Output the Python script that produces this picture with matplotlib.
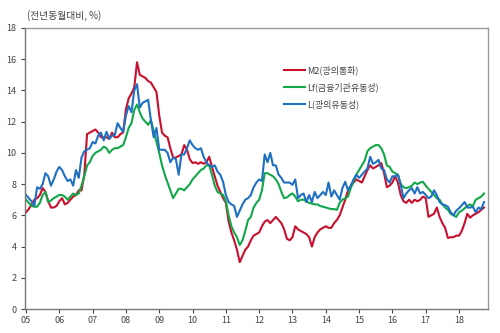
import matplotlib
matplotlib.use('Agg')
import matplotlib.pyplot as plt
import numpy as np

plt.rcParams['font.family'] = ['Noto Sans CJK KR', 'DejaVu Sans']

# monthly, Jan 2005 .. Oct 2018 (% yoy)
m2 = [6.2, 6.4, 6.7, 7.0, 7.1, 7.3, 7.75, 7.5, 6.9, 6.5, 6.5, 6.6,
      6.9, 7.1, 6.7, 6.8, 7.0, 7.2, 7.3, 7.6, 7.6, 8.6, 11.2, 11.3,
      11.4, 11.5, 11.3, 11.0, 11.0, 11.0, 10.9, 11.3, 11.0, 11.0, 11.2, 11.3,
      12.8, 13.5, 13.8, 14.2, 15.8, 15.0, 14.9, 14.8, 14.6, 14.5, 14.2, 13.9,
      12.4, 11.3, 11.1, 11.0, 10.3, 9.7, 9.7, 9.8, 9.9, 10.5, 10.2, 9.6,
      9.35, 9.4, 9.3, 9.4, 9.3, 9.4, 9.75, 9.1, 8.5, 7.9, 7.5, 7.1,
      6.8, 5.6, 4.9, 4.4, 3.8, 3.0, 3.4, 3.8, 4.0, 4.4, 4.7, 4.8,
      4.9, 5.3, 5.6, 5.7, 5.5, 5.7, 5.9, 5.7, 5.5, 5.1, 4.5, 4.4,
      4.6, 5.3, 5.1, 5.0, 4.9, 4.8, 4.6, 4.0, 4.6, 4.9, 5.1, 5.2,
      5.3, 5.2, 5.2, 5.5, 5.7, 6.0, 6.5, 7.0, 7.6, 7.9, 8.1, 8.3,
      8.2, 8.1, 8.5, 8.9, 9.2, 9.0, 9.1, 9.2, 9.35, 8.7, 7.8, 7.9,
      8.1, 8.5, 8.1, 7.3, 6.9, 6.8, 7.0, 6.8, 7.0, 6.9, 7.0, 7.2,
      7.1, 5.9, 6.0, 6.1, 6.5, 5.9, 5.5, 5.2, 4.55, 4.6, 4.6, 4.7,
      4.7, 5.0, 5.5, 6.1, 5.85, 6.0, 6.1, 6.2, 6.35, 6.5]

lf = [7.0, 6.8, 6.6, 6.55, 6.55, 6.8, 7.3, 7.5, 6.85, 6.95, 7.1, 7.2,
      7.3, 7.3, 7.2, 7.0, 7.2, 7.4, 7.3, 7.4, 7.9, 8.5, 9.2, 9.4,
      9.8, 10.0, 10.1, 10.2, 10.4, 10.3, 10.0, 10.2, 10.3, 10.3, 10.4, 10.5,
      11.0, 11.6, 11.9, 12.75, 13.1, 12.6, 12.2, 12.0, 11.8, 12.1, 11.4, 10.7,
      10.0, 9.2, 8.6, 8.1, 7.6, 7.1, 7.4, 7.7, 7.7, 7.6, 7.8, 8.0,
      8.3, 8.5, 8.7, 8.9, 9.0, 9.2, 9.2, 8.6, 7.9, 7.5, 7.4, 7.3,
      6.9, 6.0, 5.3, 4.9, 4.6, 4.1, 4.4, 5.0, 5.7, 5.9, 6.5, 6.8,
      7.0, 7.6, 8.7, 8.7, 8.6, 8.5, 8.3, 8.0, 7.5, 7.1, 7.15, 7.3,
      7.4, 7.2, 6.9, 7.0, 7.0, 6.9, 6.8, 6.75, 6.7, 6.7, 6.6, 6.55,
      6.5, 6.45, 6.4, 6.4, 6.35, 6.8, 7.0, 7.1, 7.2, 7.75, 8.15, 8.6,
      8.9, 9.2, 9.5, 10.1, 10.3, 10.4, 10.5, 10.5, 10.3, 9.9, 9.2, 9.1,
      8.8, 8.7, 8.6, 8.0, 7.8, 7.75, 7.8, 7.9, 8.1, 8.0, 8.1, 8.15,
      7.9, 7.7, 7.5, 7.3, 7.1, 7.0, 6.7, 6.5, 6.35, 6.1, 6.0, 5.9,
      6.2, 6.3, 6.45, 6.6, 6.7, 6.6, 7.0, 7.1, 7.2, 7.4]

l = [7.3, 7.1, 6.9, 6.6, 7.8, 7.7, 8.0, 8.7, 8.5, 7.9, 8.3, 8.8,
     9.1, 8.9, 8.5, 8.2, 8.3, 7.9, 8.9, 8.4, 9.7, 10.1, 10.2, 10.3,
     10.7, 10.6, 11.1, 11.3, 10.8, 11.35, 10.9, 11.1, 11.15, 11.9, 11.6, 11.35,
     12.4, 13.0, 12.6, 14.0, 14.4, 12.9, 13.2, 13.3, 13.4, 12.1, 11.0, 11.6,
     10.2, 10.2, 10.2, 10.0, 9.4, 9.7, 9.6, 8.6, 9.9, 9.9, 10.3, 10.8,
     10.5, 10.3, 10.2, 10.3, 9.75, 9.4, 9.2, 9.1, 9.2, 8.8, 8.6, 8.15,
     7.3, 6.85, 6.7, 6.6, 5.9, 6.3, 6.7, 7.0, 7.1, 7.3, 7.8, 8.1,
     8.3, 8.2, 9.9, 9.4, 10.0, 9.2, 9.2, 8.6, 8.4, 8.1, 8.1, 8.1,
     7.95, 8.3, 7.1, 7.3, 7.4, 6.85, 7.3, 6.85, 7.5, 7.1, 7.3, 7.5,
     7.3, 8.1, 7.2, 7.6, 7.3, 7.0, 7.75, 8.15, 7.6, 7.9, 8.3, 8.6,
     8.4, 8.6, 8.8, 9.0, 9.75, 9.3, 9.4, 9.55, 9.0, 8.9, 8.3, 8.1,
     8.5, 8.5, 8.6, 7.95, 7.1, 7.4, 7.6, 7.75, 7.4, 7.8, 7.4, 7.5,
     7.3, 7.1, 7.2, 7.6, 7.3, 6.85, 6.7, 6.65, 6.55, 6.2, 6.0, 6.3,
     6.45, 6.65, 6.85, 6.5, 6.5, 6.55, 6.2, 6.5, 6.4, 6.85]

year_labels = ['05', '06', '07', '08', '09', '10', '11', '12', '13', '14',
               '15', '16', '17', '18']
names = ['M2(광의통화)', 'Lf(금융기관유동성)', 'L(광의유동성)']
colors = ['#c8102e', '#12a84a', '#1f70c1']

t = 2005 + np.arange(len(m2)) / 12.0

fig = plt.figure(figsize=(5, 3.33), dpi=100)
ax = fig.add_axes([0.05, 0.072, 0.926, 0.844])

for series, name, c in zip([m2, lf, l], names, colors):
    ax.plot(t, series, color=c, lw=1.5, label=name)

ax.set_xlim(2004.97, 2018.87)
ax.set_ylim(0, 18)
ax.set_yticks(np.arange(0, 19, 2))
ax.set_xticks(2005 + np.arange(len(year_labels)))
ax.set_xticklabels(year_labels)
ax.tick_params(axis='both', labelsize=6.5, colors='#444444', length=3, width=0.8)
ax.tick_params(axis='x', pad=2)
ax.tick_params(axis='y', pad=3)

for side in ['left', 'bottom']:
    ax.spines[side].set_color('#777777')
    ax.spines[side].set_linewidth(1.0)
for side in ['top', 'right']:
    ax.spines[side].set_color('#999999')
    ax.spines[side].set_linewidth(1.0)

fig.text(0.054, 0.952, '(전년동월대비, %)', fontsize=7, color='#444444',
         va='center')

leg = ax.legend(loc='upper left', bbox_to_anchor=(0.552, 0.878), frameon=False,
                fontsize=6.5, handlelength=2.3, handletextpad=0.25,
                labelspacing=0.8, borderaxespad=0)
for txt in leg.get_texts():
    txt.set_color('#444444')

fig.savefig('out.png', dpi=100)
